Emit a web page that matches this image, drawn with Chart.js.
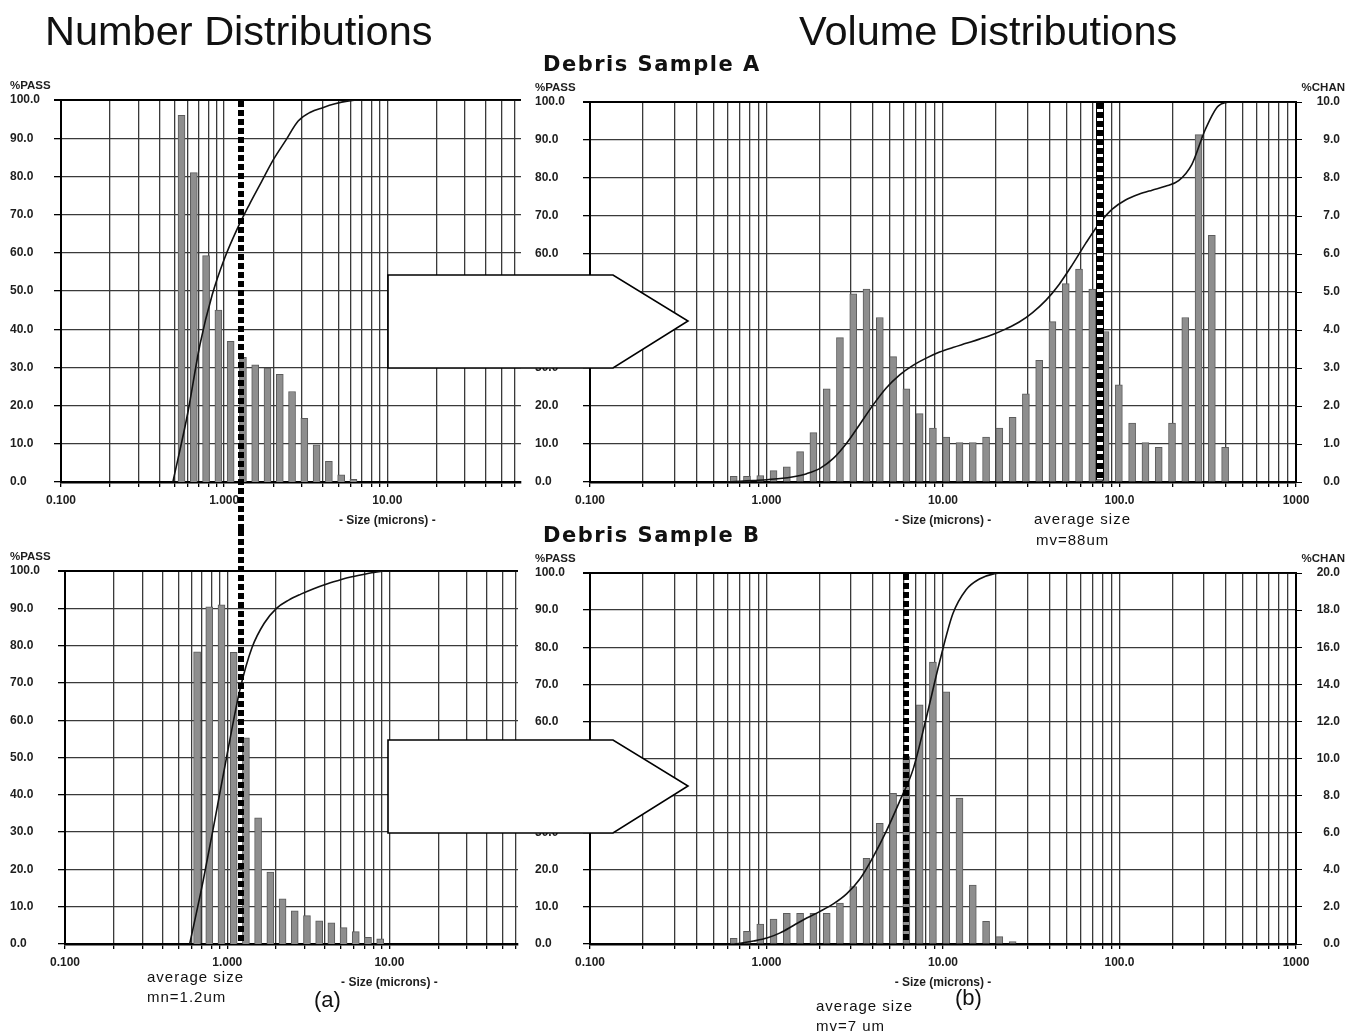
<!DOCTYPE html>
<html>
<head>
<meta charset="utf-8">
<script src="https://cdn.jsdelivr.net/npm/chart.js@4.4.1/dist/chart.umd.min.js"></script>
<style>
  html, body { margin: 0; padding: 0; background: #fff; }
  #page { position: relative; width: 1357px; height: 1035px; overflow: hidden; background: #fff; }
  canvas { position: absolute; }
  #overlay { position: absolute; left: 0; top: 0; pointer-events: none; }
</style>
</head>
<body>
<div id="page">
  <canvas id="numA" width="530" height="450" style="left:0px;top:80px"></canvas>
  <canvas id="volA" width="827" height="450" style="left:530px;top:80px"></canvas>
  <canvas id="numB" width="530" height="505" style="left:0px;top:530px"></canvas>
  <canvas id="volB" width="827" height="505" style="left:530px;top:530px"></canvas>

  <svg id="overlay" width="1357" height="1035" xmlns="http://www.w3.org/2000/svg">
    <g fill="#fff" stroke="#000" stroke-width="1.6">
      <polygon points="388,275 613,275 688,321 613,368 388,368"/>
      <polygon points="388,740 613,740 688,786 613,833 388,833"/>
    </g>
    <g font-family="Liberation Sans, Arial, sans-serif" fill="#111">
      <text x="45" y="45" font-size="41.5">Number Distributions</text>
      <text x="799" y="45" font-size="41.5">Volume Distributions</text>
    </g>
    <g font-family="DejaVu Sans, Verdana, sans-serif" font-weight="bold" font-size="21" letter-spacing="1.5" fill="#111">
      <text x="543" y="71">Debris Sample A</text>
      <text x="543" y="542">Debris Sample B</text>
    </g>
    <g font-family="Liberation Sans, Arial, sans-serif" font-size="15" letter-spacing="1" fill="#111">
      <text x="1034" y="524">average size</text>
      <text x="1036" y="545">mv=88um</text>
      <text x="147" y="982">average size</text>
      <text x="147" y="1002">mn=1.2um</text>
      <text x="816" y="1011">average size</text>
      <text x="816" y="1031">mv=7 um</text>
    </g>
    <g font-family="Liberation Sans, Arial, sans-serif" font-size="22" fill="#111">
      <text x="314" y="1007">(a)</text>
      <text x="955" y="1005">(b)</text>
    </g>
  </svg>
</div>

<script>
// size channels (microns) - centre of each histogram bar
const channelSizes = [0.461, 0.548, 0.652, 0.775, 0.922, 1.096, 1.304, 1.550, 1.844, 2.193,
                      2.607, 3.101, 3.687, 4.385, 5.214, 6.201, 7.374, 8.769, 10.43, 12.40,
                      14.75, 17.54, 20.85, 24.80, 29.49, 35.07, 41.70, 49.59, 58.98, 70.13,
                      83.40, 99.18, 117.9, 140.3, 166.8, 198.4, 235.9, 280.5, 333.6, 396.7];

// x axis labels (decades only)
const xDecades = [0.1, 1, 10, 100, 1000];
const xDecadeLabels = ['0.100', '1.000', '10.00', '100.0', '1000'];
const gridMultipliers = [1, 2, 3, 4, 5, 6, 7, 8, 9];

// Sample A - number distribution
const numASizes = channelSizes.slice(1, 16);
const numAChan = [19.2, 16.2, 11.85, 9.0, 7.37, 6.53, 6.13, 5.96, 5.64, 4.74, 3.34, 1.95, 1.08, 0.38, 0.14];
const numAPassSizes = [0.485, 0.598, 0.711, 0.845, 1.005, 1.195, 1.422, 1.690, 2.011, 2.391, 2.843,
                       3.381, 4.021, 4.782, 5.686, 6.762, 66];
const numAPass = [0, 18, 36, 49, 58.5, 66, 72.5, 78.5, 84.5, 89.5, 94.5, 96.8, 98.0, 99.0, 99.7, 100, 100];

// Sample A - volume distribution
const volASizes = channelSizes.slice(2, 40);
const volAChan = [0.15, 0.15, 0.17, 0.3, 0.4, 0.8, 1.3, 2.45, 3.8, 4.95,
                  5.08, 4.33, 3.3, 2.45, 1.8, 1.42, 1.18, 1.04, 1.04, 1.18,
                  1.42, 1.7, 2.32, 3.2, 4.22, 5.22, 5.6, 5.08, 3.96, 2.56,
                  1.55, 1.04, 0.91, 1.55, 4.33, 9.14, 6.49, 0.91];
const volAPassSizes = [0.598, 0.711, 0.845, 1.005, 1.195, 1.422, 1.690, 2.011, 2.391, 2.843,
                       3.381, 4.021, 4.782, 5.686, 6.762, 8.042, 9.563, 11.37, 13.52, 16.08,
                       19.13, 22.74, 27.05, 32.16, 38.25, 45.48, 54.09, 64.32, 76.49, 90.96,
                       108.2, 128.6, 153.0, 181.9, 216.3, 257.2, 305.9, 363.8, 432.6, 1000];
const volAPass = [0, 0.2, 0.4, 0.6, 0.9, 1.4, 2.2, 3.6, 6.2, 10.2,
                  15.2, 20.3, 24.8, 28.2, 30.7, 32.6, 34.2, 35.4, 36.5, 37.6,
                  38.8, 40.3, 42.1, 44.6, 47.8, 52.0, 57.2, 62.8, 67.9, 71.8,
                  74.2, 75.7, 76.8, 77.8, 79.3, 83.6, 92.7, 99.0, 100, 100];

// Sample B - number distribution
const numBSizes = channelSizes.slice(2, 18);
const numBChan = [15.66, 18.08, 18.18, 15.64, 11.06, 6.76, 3.86, 2.42, 1.78, 1.52, 1.24, 1.14, 0.88, 0.66, 0.36, 0.28];
const numBPassSizes = [0.587, 0.711, 0.845, 1.005, 1.195, 1.422, 1.690, 2.011, 2.391, 2.843,
                       3.381, 4.021, 4.782, 5.686, 6.762, 8.042, 9.563, 62];
const numBPass = [0, 17, 34, 51.5, 68, 79.5, 86, 90, 92.2, 93.8, 95.2, 96.4, 97.4, 98.3, 99.0, 99.6, 100, 100];

// Sample B - volume distribution
const volBSizes = channelSizes.slice(2, 24);
const volBChan = [0.31, 0.68, 1.08, 1.35, 1.65, 1.65, 1.65, 1.65, 2.2, 3.1, 4.62,
                  6.5, 8.12, 10.1, 12.9, 15.2, 13.6, 7.87, 3.18, 1.22, 0.4, 0.13];
const volBPassSizes = [0.66, 0.711, 0.845, 1.005, 1.195, 1.422, 1.690, 2.011, 2.391, 2.843,
                       3.381, 4.021, 4.782, 5.686, 6.762, 8.042, 9.563, 11.37, 13.52, 16.08,
                       19.13, 22.74, 1000];
const volBPass = [0, 0.2, 0.8, 1.6, 3.0, 5.0, 7.0, 8.8, 10.8, 13.5,
                  17.5, 23.5, 30.5, 38.5, 47, 61, 76, 89, 95.5, 98.4,
                  99.7, 100, 100];

// average size markers
const numAMean = 1.27, numBMean = 1.21, volAMean = 78, volBMean = 6.2;

// grid positions for the log axis (1..9 per decade)
const gridSizes = [];
xDecades.slice(0, 4).forEach(d => gridMultipliers.forEach(m => gridSizes.push(+(d * m).toPrecision(3))));
gridSizes.push(1000);

const FONT = '"Liberation Sans", Arial, sans-serif';
const gridColor = '#3a3a3a';
const textColor = '#1e1e1e';

Chart.defaults.font.family = FONT;
Chart.defaults.animation = false;

function zip(xs, ys) {
    return xs.map((x, i) => ({ x: x, y: ys[i] }));
}

// dashed "average size" line plus the axis captions
const panelDecor = {
    id: 'panelDecor',
    afterDraw(chart, args, o) {
        const { ctx, chartArea, scales } = chart;
        ctx.save();

        const mx = Math.round(scales.x.getPixelForValue(o.meanSize));
        let y0 = chartArea.top + 1, y1 = chartArea.bottom - 2;
        if (o.extend === 'down') y1 = chart.height;
        if (o.extend === 'up') y0 = 0;
        if (o.outline) {
            ctx.fillStyle = '#fff';
            ctx.fillRect(mx - 3.5, y0, 7, y1 - y0);
            ctx.strokeStyle = '#000';
            ctx.lineWidth = 1;
            ctx.strokeRect(mx - 3.5, y0, 7, y1 - y0);
        }
        ctx.strokeStyle = '#000';
        ctx.lineWidth = 6;
        ctx.setLineDash([6, 3]);
        ctx.beginPath();
        ctx.moveTo(mx, y0);
        ctx.lineTo(mx, y1);
        ctx.stroke();
        ctx.setLineDash([]);

        ctx.fillStyle = textColor;
        ctx.textBaseline = 'middle';
        ctx.font = 'bold 11.5px ' + FONT;
        ctx.textAlign = 'left';
        ctx.fillText('%PASS', scales.y.left, chartArea.top - 14);
        if (scales.y1.options.display) {
            ctx.textAlign = 'right';
            ctx.fillText('%CHAN', scales.y1.right + 5, chartArea.top - 14);
        }
        ctx.font = 'bold 12px ' + FONT;
        ctx.textAlign = 'center';
        ctx.fillText('- Size (microns) -', scales.x.getPixelForValue(10), chartArea.bottom + 39);
        ctx.restore();
    }
};

function buildPanel(canvasId, p) {
    const tickFont = { size: 12, weight: 'bold', family: FONT };
    return new Chart(document.getElementById(canvasId), {
        type: 'bar',
        data: {
            datasets: [
                {
                    type: 'line',
                    data: zip(p.passSizes, p.pass),
                    yAxisID: 'y',
                    borderColor: '#111',
                    borderWidth: 1.6,
                    pointRadius: 0,
                    cubicInterpolationMode: 'monotone',
                    fill: false,
                    order: 0
                },
                {
                    type: 'bar',
                    data: zip(p.barSizes, p.chan),
                    yAxisID: 'y1',
                    backgroundColor: '#8e8e8e',
                    borderColor: '#5c5c5c',
                    borderWidth: 1,
                    barThickness: 7,
                    order: 1
                }
            ]
        },
        options: {
            responsive: false,
            events: [],
            layout: { padding: p.padding },
            plugins: {
                legend: { display: false },
                tooltip: { enabled: false },
                panelDecor: { meanSize: p.meanSize, extend: p.extend, outline: p.outline }
            },
            scales: {
                x: {
                    type: 'logarithmic',
                    min: 0.1,
                    max: p.xMax,
                    offset: false,
                    afterBuildTicks: s => {
                        s.ticks = gridSizes.filter(v => v >= s.min * 0.9999 && v <= s.max * 1.0001)
                                           .map(v => ({ value: v }));
                    },
                    afterFit: s => { s.height = p.xHeight; },
                    grid: { offset: false, color: gridColor, lineWidth: 1.3, tickLength: 5, tickColor: '#000' },
                    border: { display: true, color: '#000', width: 2.5 },
                    ticks: {
                        autoSkip: false, maxRotation: 0, minRotation: 0, padding: 6,
                        font: tickFont, color: textColor,
                        callback: v => {
                            const i = xDecades.findIndex(d => Math.abs(v - d) < d * 1e-6);
                            return i >= 0 ? xDecadeLabels[i] : '';
                        }
                    }
                },
                y: {
                    type: 'linear',
                    position: 'left',
                    min: 0,
                    max: 100,
                    afterFit: s => { s.width = p.yWidth; },
                    grid: {
                        color: c => (c.tick && c.tick.value === 100) ? '#000' : gridColor,
                        lineWidth: c => (c.tick && c.tick.value === 100) ? 2 : 1.3,
                        tickLength: 7,
                        tickColor: '#000'
                    },
                    border: { color: '#000', width: 2 },
                    ticks: {
                        stepSize: 10, crossAlign: 'far', padding: 4,
                        font: tickFont, color: textColor,
                        callback: v => v.toFixed(1)
                    }
                },
                y1: {
                    type: 'linear',
                    position: 'right',
                    display: p.showChan,
                    min: 0,
                    max: p.chanMax,
                    afterFit: s => { s.width = p.y1Width; },
                    grid: { drawOnChartArea: false, tickLength: 6, tickColor: '#000', color: '#000' },
                    border: { color: '#000', width: 2 },
                    ticks: {
                        stepSize: p.chanStep, crossAlign: 'far', padding: 4,
                        font: tickFont, color: textColor,
                        callback: v => v.toFixed(1)
                    }
                }
            }
        },
        plugins: [panelDecor]
    });
}

buildPanel('numA', {
    barSizes: numASizes, chan: numAChan, passSizes: numAPassSizes, pass: numAPass,
    xMax: 66, chanMax: 20, chanStep: 2, showChan: false,
    padding: { left: 10, top: 20, right: 9, bottom: 0 }, yWidth: 51, y1Width: 0, xHeight: 48,
    meanSize: numAMean, extend: 'down', outline: false
});

buildPanel('volA', {
    barSizes: volASizes, chan: volAChan, passSizes: volAPassSizes, pass: volAPass,
    xMax: 1000, chanMax: 10, chanStep: 1, showChan: true,
    padding: { left: 5, top: 22, right: 17, bottom: 0 }, yWidth: 55, y1Width: 44, xHeight: 48,
    meanSize: volAMean, extend: null, outline: true
});

buildPanel('numB', {
    barSizes: numBSizes, chan: numBChan, passSizes: numBPassSizes, pass: numBPass,
    xMax: 62, chanMax: 20, chanStep: 2, showChan: false,
    padding: { left: 10, top: 41, right: 12, bottom: 0 }, yWidth: 55, y1Width: 0, xHeight: 91,
    meanSize: numBMean, extend: 'up', outline: false
});

buildPanel('volB', {
    barSizes: volBSizes, chan: volBChan, passSizes: volBPassSizes, pass: volBPass,
    xMax: 1000, chanMax: 20, chanStep: 2, showChan: true,
    padding: { left: 5, top: 43, right: 17, bottom: 0 }, yWidth: 55, y1Width: 44, xHeight: 91,
    meanSize: volBMean, extend: null, outline: false
});
</script>
</body>
</html>
